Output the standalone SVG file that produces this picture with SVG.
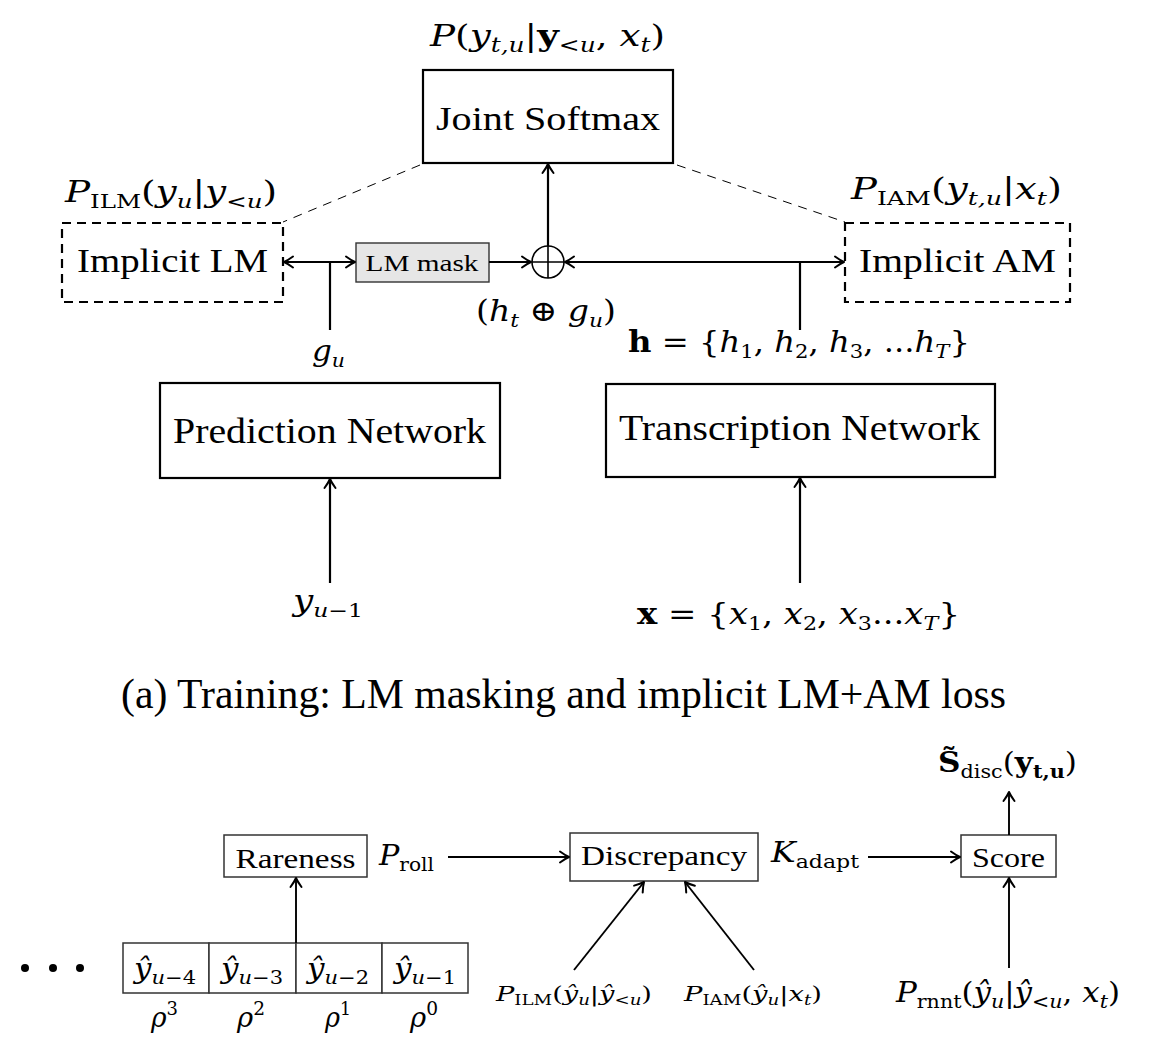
<svg xmlns="http://www.w3.org/2000/svg" width="1172" height="1060" viewBox="0 0 1172 1060">
<style>
text{font-family:"Liberation Serif","DejaVu Serif",serif;fill:#000}
text.m{font-family:"DejaVu Serif","Liberation Serif",serif}
.i{font-style:italic}
.b{font-weight:bold}
.box{fill:#fff;stroke:#000;stroke-width:2.2}
.dbox{fill:none;stroke:#000;stroke-width:2.2;stroke-dasharray:9 6}
.sbox{fill:#fff;stroke:#333;stroke-width:1.5}
.ln{fill:none;stroke:#000;stroke-width:2.2}
.ln2{fill:none;stroke:#000;stroke-width:1.9}
.dl{fill:none;stroke:#000;stroke-width:1;stroke-dasharray:9 7}
</style>
<defs>
<marker id="ah" viewBox="-11 -7 13 14" refX="0" refY="0" markerWidth="13" markerHeight="14" orient="auto-start-reverse" markerUnits="userSpaceOnUse">
<path d="M-9,-5.5 Q-3.5,-1.5 0,0 Q-3.5,1.5 -9,5.5" fill="none" stroke="#000" stroke-width="2" stroke-linecap="round" stroke-linejoin="round"/>
</marker>
</defs>

<text class="m" x="430" y="46" font-size="30" textLength="235" lengthAdjust="spacingAndGlyphs"><tspan class="i">P</tspan>(<tspan class="i">y</tspan><tspan class="i" font-size="20" dy="6">t,u</tspan><tspan dy="-6">|</tspan><tspan class="b">y</tspan><tspan font-size="20" dy="6">&lt;</tspan><tspan class="i" font-size="20">u</tspan><tspan dy="-6">, </tspan><tspan class="i">x</tspan><tspan class="i" font-size="20" dy="6">t</tspan><tspan dy="-6">)</tspan></text>

<g id="joint-softmax">
<rect class="box" x="423" y="70" width="250" height="93"/>
<text x="548" y="130" font-size="34" text-anchor="middle" textLength="224" lengthAdjust="spacingAndGlyphs">Joint Softmax</text>
</g>

<g id="implicit-lm">
<text class="m" x="65" y="202" font-size="29" textLength="212" lengthAdjust="spacingAndGlyphs"><tspan class="i">P</tspan><tspan font-size="19" dy="6">ILM</tspan><tspan dy="-6">(</tspan><tspan class="i">y</tspan><tspan class="i" font-size="19" dy="6">u</tspan><tspan dy="-6">|</tspan><tspan class="i">y</tspan><tspan font-size="19" dy="6">&lt;</tspan><tspan class="i" font-size="19">u</tspan><tspan dy="-6">)</tspan></text>
<rect class="dbox" x="62" y="223" width="221" height="79"/>
<text x="172.5" y="272" font-size="34" text-anchor="middle" textLength="191" lengthAdjust="spacingAndGlyphs">Implicit LM</text>
</g>

<g id="lm-mask">
<rect x="356" y="243" width="133" height="39" fill="#e6e6e6" stroke="#333" stroke-width="1.4"/>
<text x="422" y="271" font-size="23" text-anchor="middle" textLength="113" lengthAdjust="spacingAndGlyphs">LM mask</text>
</g>

<g id="sum">
<circle cx="548" cy="262" r="16" fill="#fff" stroke="#000" stroke-width="1.6"/>
<path d="M532,262 H564 M548,246 V278" stroke="#000" stroke-width="1.6"/>
<text class="m" x="476" y="321" font-size="29" textLength="140" lengthAdjust="spacingAndGlyphs">(<tspan class="i">h</tspan><tspan class="i" font-size="19" dy="6">t</tspan><tspan dy="-6"> ⊕ </tspan><tspan class="i">g</tspan><tspan class="i" font-size="19" dy="6">u</tspan><tspan dy="-6">)</tspan></text>
</g>

<g id="implicit-am">
<text class="m" x="851" y="199" font-size="29" textLength="211" lengthAdjust="spacingAndGlyphs"><tspan class="i">P</tspan><tspan font-size="19" dy="6">IAM</tspan><tspan dy="-6">(</tspan><tspan class="i">y</tspan><tspan class="i" font-size="19" dy="6">t,u</tspan><tspan dy="-6">|</tspan><tspan class="i">x</tspan><tspan class="i" font-size="19" dy="6">t</tspan><tspan dy="-6">)</tspan></text>
<rect class="dbox" x="845" y="223" width="225" height="79"/>
<text x="957.5" y="272" font-size="34" text-anchor="middle" textLength="197" lengthAdjust="spacingAndGlyphs">Implicit AM</text>
</g>

<g id="prediction-network">
<text class="m" x="312" y="361" font-size="29" textLength="33" lengthAdjust="spacingAndGlyphs"><tspan class="i">g</tspan><tspan class="i" font-size="19" dy="6">u</tspan></text>
<rect class="box" x="160" y="383" width="340" height="95"/>
<text x="329.5" y="443" font-size="36" text-anchor="middle" textLength="313" lengthAdjust="spacingAndGlyphs">Prediction Network</text>
<text class="m" x="293" y="611" font-size="29" textLength="70" lengthAdjust="spacingAndGlyphs"><tspan class="i">y</tspan><tspan class="i" font-size="19" dy="6">u</tspan><tspan font-size="19">−1</tspan></text>
</g>

<g id="transcription-network">
<text class="m" x="628" y="352" font-size="29" textLength="342" lengthAdjust="spacingAndGlyphs"><tspan class="b">h</tspan> = {<tspan class="i">h</tspan><tspan font-size="19" dy="6">1</tspan><tspan dy="-6">, </tspan><tspan class="i">h</tspan><tspan font-size="19" dy="6">2</tspan><tspan dy="-6">, </tspan><tspan class="i">h</tspan><tspan font-size="19" dy="6">3</tspan><tspan dy="-6">, ...</tspan><tspan class="i">h</tspan><tspan class="i" font-size="19" dy="6">T</tspan><tspan dy="-6">}</tspan></text>
<rect class="box" x="606" y="384" width="389" height="93"/>
<text x="799.5" y="440" font-size="36" text-anchor="middle" textLength="361" lengthAdjust="spacingAndGlyphs">Transcription Network</text>
<text class="m" x="637" y="624" font-size="29" textLength="323" lengthAdjust="spacingAndGlyphs"><tspan class="b">x</tspan> = {<tspan class="i">x</tspan><tspan font-size="19" dy="6">1</tspan><tspan dy="-6">, </tspan><tspan class="i">x</tspan><tspan font-size="19" dy="6">2</tspan><tspan dy="-6">, </tspan><tspan class="i">x</tspan><tspan font-size="19" dy="6">3</tspan><tspan dy="-6">...</tspan><tspan class="i">x</tspan><tspan class="i" font-size="19" dy="6">T</tspan><tspan dy="-6">}</tspan></text>
</g>

<text x="563.5" y="708" font-size="42" text-anchor="middle" textLength="885" lengthAdjust="spacingAndGlyphs">(a) Training: LM masking and implicit LM+AM loss</text>

<g id="rareness">
<rect class="sbox" x="224" y="835" width="143" height="42"/>
<text x="295.5" y="868" font-size="28" text-anchor="middle" textLength="120" lengthAdjust="spacingAndGlyphs">Rareness</text>
<text class="m" x="379" y="865" font-size="27" textLength="55" lengthAdjust="spacingAndGlyphs"><tspan class="i">P</tspan><tspan font-size="18" dy="6">roll</tspan></text>
</g>

<g id="discrepancy">
<rect class="sbox" x="570" y="833" width="188" height="48"/>
<text x="664" y="865" font-size="28" text-anchor="middle" textLength="166" lengthAdjust="spacingAndGlyphs">Discrepancy</text>
<text class="m" x="771" y="862" font-size="27" textLength="88" lengthAdjust="spacingAndGlyphs"><tspan class="i">K</tspan><tspan font-size="18" dy="6">adapt</tspan></text>
</g>

<g id="score">
<rect class="sbox" x="961" y="835" width="95" height="42"/>
<text x="1008.5" y="867" font-size="28" text-anchor="middle" textLength="73" lengthAdjust="spacingAndGlyphs">Score</text>
<text class="m" x="938" y="772" font-size="27" textLength="139" lengthAdjust="spacingAndGlyphs"><tspan class="b">S̃</tspan><tspan font-size="18" dy="6">disc</tspan><tspan dy="-6">(</tspan><tspan class="b">y</tspan><tspan class="b" font-size="18" dy="6">t,u</tspan><tspan dy="-6">)</tspan></text>
</g>

<g id="history">
<circle cx="25" cy="968" r="4"/>
<circle cx="53" cy="968" r="4"/>
<circle cx="80" cy="968" r="4"/>
<rect class="sbox" x="123" y="943" width="86" height="50"/>
<rect class="sbox" x="209" y="943" width="87" height="50"/>
<rect class="sbox" x="296" y="943" width="86" height="50"/>
<rect class="sbox" x="382" y="943" width="86" height="50"/>
<text class="m" x="134" y="978" font-size="28" textLength="62" lengthAdjust="spacingAndGlyphs"><tspan class="i">ŷ</tspan><tspan class="i" font-size="19" dy="6">u</tspan><tspan font-size="19">−4</tspan></text>
<text class="m" x="221" y="978" font-size="28" textLength="62" lengthAdjust="spacingAndGlyphs"><tspan class="i">ŷ</tspan><tspan class="i" font-size="19" dy="6">u</tspan><tspan font-size="19">−3</tspan></text>
<text class="m" x="307" y="978" font-size="28" textLength="62" lengthAdjust="spacingAndGlyphs"><tspan class="i">ŷ</tspan><tspan class="i" font-size="19" dy="6">u</tspan><tspan font-size="19">−2</tspan></text>
<text class="m" x="394" y="978" font-size="28" textLength="62" lengthAdjust="spacingAndGlyphs"><tspan class="i">ŷ</tspan><tspan class="i" font-size="19" dy="6">u</tspan><tspan font-size="19">−1</tspan></text>
<text class="m" x="151" y="1027" font-size="28" textLength="27" lengthAdjust="spacingAndGlyphs"><tspan class="i">ρ</tspan><tspan font-size="19" dy="-12">3</tspan></text>
<text class="m" x="237" y="1027" font-size="28" textLength="28" lengthAdjust="spacingAndGlyphs"><tspan class="i">ρ</tspan><tspan font-size="19" dy="-12">2</tspan></text>
<text class="m" x="325" y="1027" font-size="28" textLength="26" lengthAdjust="spacingAndGlyphs"><tspan class="i">ρ</tspan><tspan font-size="19" dy="-12">1</tspan></text>
<text class="m" x="410" y="1027" font-size="28" textLength="28" lengthAdjust="spacingAndGlyphs"><tspan class="i">ρ</tspan><tspan font-size="19" dy="-12">0</tspan></text>
</g>

<g id="inputs">
<text class="m" x="496" y="1001" font-size="21" textLength="156" lengthAdjust="spacingAndGlyphs"><tspan class="i">P</tspan><tspan font-size="14" dy="4">ILM</tspan><tspan dy="-4">(</tspan><tspan class="i">ŷ</tspan><tspan class="i" font-size="14" dy="4">u</tspan><tspan dy="-4">|</tspan><tspan class="i">ŷ</tspan><tspan font-size="14" dy="4">&lt;</tspan><tspan class="i" font-size="14">u</tspan><tspan dy="-4">)</tspan></text>
<text class="m" x="684" y="1001" font-size="21" textLength="138" lengthAdjust="spacingAndGlyphs"><tspan class="i">P</tspan><tspan font-size="14" dy="4">IAM</tspan><tspan dy="-4">(</tspan><tspan class="i">ŷ</tspan><tspan class="i" font-size="14" dy="4">u</tspan><tspan dy="-4">|</tspan><tspan class="i">x</tspan><tspan class="i" font-size="14" dy="4">t</tspan><tspan dy="-4">)</tspan></text>
<text class="m" x="896" y="1002" font-size="27" textLength="224" lengthAdjust="spacingAndGlyphs"><tspan class="i">P</tspan><tspan font-size="18" dy="6">rnnt</tspan><tspan dy="-6">(</tspan><tspan class="i">ŷ</tspan><tspan class="i" font-size="18" dy="6">u</tspan><tspan dy="-6">|</tspan><tspan class="i">ŷ</tspan><tspan font-size="18" dy="6">&lt;</tspan><tspan class="i" font-size="18">u</tspan><tspan dy="-6">, </tspan><tspan class="i">x</tspan><tspan class="i" font-size="18" dy="6">t</tspan><tspan dy="-6">)</tspan></text>
</g>

<g id="connectors">
<path class="dl" d="M420,165 L283,222"/>
<path class="dl" d="M677,165 L845,222"/>
<path class="ln" d="M548,246 V164" marker-end="url(#ah)"/>
<path class="ln" d="M489,262 H531" marker-end="url(#ah)"/>
<path class="ln" d="M284,262 H355" marker-start="url(#ah)" marker-end="url(#ah)"/>
<path class="ln" d="M330,262 V330"/>
<path class="ln" d="M565,262 H844" marker-start="url(#ah)" marker-end="url(#ah)"/>
<path class="ln" d="M800,262 V330"/>
<path class="ln" d="M330,583 V479" marker-end="url(#ah)"/>
<path class="ln" d="M800,583 V478" marker-end="url(#ah)"/>
<path class="ln2" d="M448,857 H569" marker-end="url(#ah)"/>
<path class="ln2" d="M868,857 H960" marker-end="url(#ah)"/>
<path class="ln2" d="M1009,835 V792" marker-end="url(#ah)"/>
<path class="ln2" d="M1009,968 V878" marker-end="url(#ah)"/>
<path class="ln2" d="M296,943 V878" marker-end="url(#ah)"/>
<path class="ln2" d="M574,970 L644,882" marker-end="url(#ah)"/>
<path class="ln2" d="M754,970 L685,882" marker-end="url(#ah)"/>
</g>
</svg>
